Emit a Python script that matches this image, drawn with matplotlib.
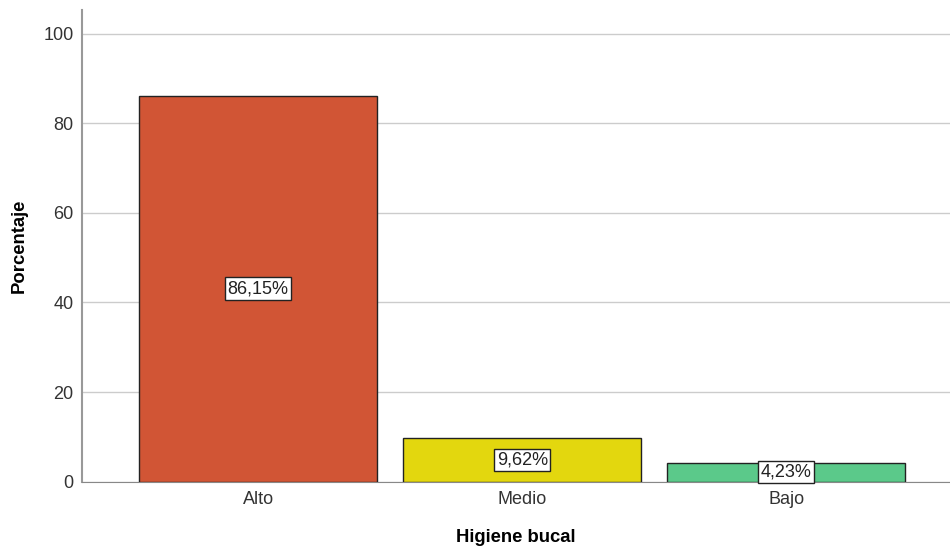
import matplotlib.pyplot as plt
import numpy as np

plt.rcParams['font.family'] = ['Liberation Sans', 'DejaVu Sans']

categorias = ['Alto', 'Medio', 'Bajo']
porcentajes = [86.15, 9.62, 4.23]
colores = ['#D15535', '#E3D70E', '#5BC98A']
etiquetas = ['86,15%', '9,62%', '4,23%']

fig = plt.figure(figsize=(9.5, 5.48), dpi=100)
ax = fig.add_axes([0.0863, 0.1212, 0.9137, 0.8606])

x = np.arange(len(categorias))
ax.bar(x, porcentajes, width=0.9, color=colores, edgecolor='#222222', linewidth=1, zorder=3)

for xi, v, txt in zip(x, porcentajes, etiquetas):
    ax.text(xi, v / 2, txt, ha='center', va='center', fontsize=13, color='#222222', zorder=4,
            bbox=dict(boxstyle='square,pad=0.15', fc='white', ec='#222222', lw=1))

ax.set_xlim(-0.667, 2.62)
ax.set_ylim(0, 105.3)
ax.set_yticks([0, 20, 40, 60, 80, 100])
ax.set_xticks(x)
ax.set_xticklabels(categorias)
ax.tick_params(axis='both', length=0, labelsize=13, labelcolor='#333333')
ax.tick_params(axis='x', pad=7)
ax.tick_params(axis='y', pad=6)

ax.grid(axis='y', color='#CCCCCC', linewidth=1, zorder=0)
ax.set_axisbelow(True)
for s in ['top', 'right']:
    ax.spines[s].set_visible(False)
ax.spines['left'].set_color('#999999')
ax.spines['bottom'].set_color('#888888')
ax.spines['left'].set_linewidth(1.5)

ax.set_ylabel('Porcentaje', fontsize=13.3, fontweight='bold', labelpad=11)
ax.set_xlabel('Higiene bucal', fontsize=13.3, fontweight='bold', labelpad=15)

fig.savefig('out.png', dpi=100)
